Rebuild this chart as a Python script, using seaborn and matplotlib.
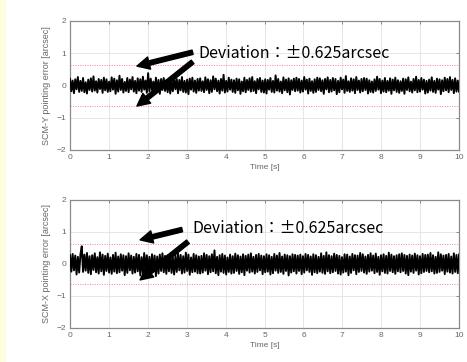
import numpy as np
import matplotlib
matplotlib.use("Agg")
import matplotlib.pyplot as plt
import seaborn as sns
from matplotlib.patches import Rectangle

# pointing error samples [arcsec]
scm_y = [
    0.21, -0.18, 0.15, -0.24, 0.19, -0.12, 0.26, -0.2, 0.14, -0.17, 0.23, -0.21, 0.1, -0.25, 0.18, -0.14, 0.22, -0.19, 0.28, -0.16, 0.13, -0.22, 0.2, -0.11, 0.17,
    -0.23, 0.24, -0.15, 0.19, -0.2, 0.12, -0.18, 0.25, -0.13, 0.21, -0.26, 0.16, -0.19, 0.3, -0.14, 0.2, -0.22, 0.11, -0.17, 0.23, -0.21, 0.18, -0.12, 0.26, -0.19,
    0.14, -0.24, 0.22, -0.16, 0.19, -0.2, 0.27, -0.13, 0.15, -0.23, 0.38, -0.18, 0.21, -0.15, 0.12, -0.22, 0.24, -0.19, 0.17, -0.26, 0.2, -0.14, 0.23, -0.17, 0.16,
    -0.21, 0.19, -0.25, 0.13, -0.18, 0.22, -0.12, 0.2, -0.24, 0.17, -0.15, 0.26, -0.2, 0.14, -0.22, 0.18, -0.27, 0.21, -0.13, 0.24, -0.19, 0.15, -0.23, 0.2, -0.16,
    0.22, -0.17, 0.13, -0.21, 0.25, -0.14, 0.19, -0.24, 0.16, -0.2, 0.28, -0.12, 0.21, -0.18, 0.15, -0.25, 0.2, -0.16, 0.33, -0.22, 0.14, -0.19, 0.24, -0.13, 0.18,
    -0.2, 0.16, -0.23, 0.21, -0.15, 0.19, -0.26, 0.12, -0.18, 0.24, -0.21, 0.17, -0.14, 0.22, -0.19, 0.26, -0.17, 0.13, -0.24, 0.2, -0.12, 0.23, -0.2, 0.15, -0.22,
    0.19, -0.25, 0.17, -0.13, 0.23, -0.2, 0.14, -0.22, 0.31, -0.16, 0.2, -0.19, 0.12, -0.24, 0.25, -0.15, 0.18, -0.21, 0.22, -0.28, 0.16, -0.14, 0.21, -0.18, 0.24,
    -0.16, 0.2, -0.22, 0.15, -0.19, 0.26, -0.13, 0.18, -0.25, 0.21, -0.17, 0.13, -0.23, 0.19, -0.2, 0.24, -0.14, 0.22, -0.18, 0.16, -0.26, 0.2, -0.12, 0.25, -0.21,
    0.17, -0.19, 0.23, -0.15, 0.2, -0.27, 0.14, -0.21, 0.24, -0.12, 0.18, -0.23, 0.29, -0.17, 0.13, -0.2, 0.22, -0.16, 0.19, -0.24, 0.26, -0.14, 0.15, -0.22, 0.2,
    -0.18, 0.23, -0.14, 0.21, -0.25, 0.16, -0.2, 0.12, -0.22, 0.19, -0.17, 0.27, -0.13, 0.2, -0.24, 0.15, -0.19, 0.23, -0.21, 0.14, -0.16, 0.22, -0.26, 0.18, -0.15,
    0.24, -0.2, 0.16, -0.23, 0.13, -0.17, 0.21, -0.26, 0.19, -0.14, 0.25, -0.18, 0.12, -0.22, 0.2, -0.15, 0.27, -0.21, 0.17, -0.19, 0.23, -0.13, 0.18, -0.25, 0.14,
    -0.22, 0.18, -0.16, 0.25, -0.2, 0.14, -0.23, 0.21, -0.13, 0.19, -0.27, 0.16, -0.18, 0.24, -0.15, 0.2, -0.21, 0.26, -0.14, 0.17, -0.24, 0.22, -0.19, 0.15, -0.2,
]
scm_x = [
    0.28, -0.24, 0.31, -0.2, 0.26, -0.33, 0.22, -0.27, 0.3, 0.55, -0.25, 0.29, -0.21, 0.34, -0.28, 0.24, -0.32, 0.27, -0.19, 0.33, -0.26, 0.21, -0.3, 0.36, -0.23,
    0.29, -0.34, 0.25, -0.22, 0.32, -0.27, 0.2, -0.31, 0.28, -0.24, 0.35, -0.29, 0.23, -0.26, 0.3, -0.21, 0.27, -0.35, 0.24, -0.28, 0.33, -0.2, 0.26, -0.3, 0.22,
    -0.27, 0.31, -0.23, 0.28, -0.36, 0.21, -0.29, 0.34, -0.25, 0.27, -0.32, 0.22, -0.28, 0.3, -0.24, 0.26, -0.38, 0.23, -0.3, 0.29, -0.22, 0.33, -0.26, 0.25, -0.31,
    0.27, -0.23, 0.3, -0.28, 0.21, -0.33, 0.26, -0.25, 0.32, -0.2, 0.28, -0.3, 0.24, -0.27, 0.35, -0.22, 0.29, -0.34, 0.2, -0.26, 0.31, -0.24, 0.27, -0.29, 0.23,
    -0.3, 0.25, -0.27, 0.33, -0.21, 0.28, -0.32, 0.24, -0.26, 0.3, -0.23, 0.42, -0.29, 0.22, -0.35, 0.27, -0.24, 0.31, -0.28, 0.26, -0.33, 0.2, -0.25, 0.29, -0.3,
    0.24, -0.28, 0.32, -0.22, 0.27, -0.31, 0.23, -0.26, 0.3, -0.35, 0.25, -0.21, 0.29, -0.27, 0.33, -0.24, 0.22, -0.3, 0.28, -0.25, 0.31, -0.2, 0.26, -0.32, 0.24,
    -0.26, 0.3, -0.24, 0.27, -0.33, 0.22, -0.29, 0.31, -0.21, 0.26, -0.28, 0.34, -0.25, 0.23, -0.31, 0.29, -0.22, 0.27, -0.36, 0.24, -0.27, 0.3, -0.23, 0.28, -0.3,
    0.26, -0.22, 0.29, -0.32, 0.24, -0.27, 0.31, -0.2, 0.28, -0.25, 0.23, -0.34, 0.3, -0.26, 0.27, -0.29, 0.22, -0.24, 0.33, -0.28, 0.25, -0.31, 0.36, -0.23, 0.27,
    -0.29, 0.24, -0.26, 0.32, -0.22, 0.28, -0.3, 0.25, -0.33, 0.21, -0.27, 0.3, -0.24, 0.29, -0.35, 0.23, -0.28, 0.31, -0.2, 0.27, -0.32, 0.26, -0.25, 0.34, -0.22,
    0.3, -0.27, 0.23, -0.31, 0.28, -0.24, 0.33, -0.21, 0.26, -0.29, 0.32, -0.25, 0.22, -0.34, 0.27, -0.23, 0.3, -0.28, 0.25, -0.3, 0.35, -0.22, 0.29, -0.26, 0.24,
    -0.31, 0.27, -0.23, 0.3, -0.26, 0.33, -0.22, 0.28, -0.3, 0.25, -0.35, 0.29, -0.24, 0.26, -0.28, 0.32, -0.21, 0.27, -0.33, 0.24, -0.29, 0.31, -0.25, 0.28, -0.22,
    0.29, -0.26, 0.34, -0.23, 0.27, -0.3, 0.22, -0.28, 0.36, -0.25, 0.3, -0.21, 0.26, -0.32, 0.28, -0.24, 0.31, -0.27, 0.23, -0.3, 0.33, -0.25, 0.28, -0.29, 0.3,
]
duration = 10.0          # [s]
deviation = 0.625        # [arcsec]
y_labels = ["SCM-Y pointing error [arcsec]", "SCM-X pointing error [arcsec]"]
note = "Deviation：±0.625arcsec"

sns.set_style("white")
plt.rcParams["font.family"] = ["Liberation Sans", "DejaVu Sans"]

fig = plt.figure(figsize=(4.67, 3.62), dpi=100)
fig.patches.append(Rectangle((0, 0), 6 / 467, 1, transform=fig.transFigure,
                             facecolor="#fffde0", edgecolor="none", zorder=-1))

ax_top = fig.add_axes([0.150, 0.586, 0.833, 0.356])
ax_bot = fig.add_axes([0.150, 0.094, 0.833, 0.354])

# annotation layout per panel: text pos, arrow tails, arrow tips (data coords)
ann = [
    dict(text=(3.3, 1.0), tails=[(3.15, 1.03), (3.15, 0.73)], tips=[(1.72, 0.6), (1.72, -0.64)]),
    dict(text=(3.15, 1.12), tails=[(2.88, 1.07), (3.03, 0.69)], tips=[(1.8, 0.75), (1.8, -0.5)]),
]

for ax, vals, ylab, a in zip([ax_top, ax_bot], [scm_y, scm_x], y_labels, ann):
    t = np.linspace(0, duration, len(vals))
    sns.lineplot(x=t, y=vals, ax=ax, color="black", lw=1.4, zorder=3)
    for lvl in (deviation, -deviation):
        ax.axhline(lvl, color="#ff8090", lw=0.7, ls=(0, (1, 1.5)), zorder=2)
    ax.set_xlim(0, duration)
    ax.set_ylim(-2, 2)
    ax.set_xticks(range(0, 11))
    ax.set_yticks([-2, -1, 0, 1, 2])
    ax.grid(True, color="#e2e2e2", lw=0.6)
    ax.tick_params(direction="in", top=True, right=True, length=2.5, width=0.6,
                   color="#777777", labelsize=6, labelcolor="#666666", pad=3)
    for s in ax.spines.values():
        s.set_color("#8a8a8a")
        s.set_linewidth(0.9)
    ax.set_xlabel("Time [s]", fontsize=6, color="#666666", labelpad=2)
    ax.set_ylabel(ylab, fontsize=6.5, color="#666666", labelpad=4)

    for tail, tip in zip(a["tails"], a["tips"]):
        ax.annotate("", xy=tip, xytext=tail,
                    arrowprops=dict(facecolor="black", edgecolor="black", width=3.2,
                                    headwidth=9, headlength=9, shrink=0), zorder=5)
    ax.text(*a["text"], note, fontsize=11.5, va="center", ha="left", color="black",
            family=["Noto Sans CJK JP", "DejaVu Sans"], zorder=6)

fig.savefig("out.png", dpi=100)
